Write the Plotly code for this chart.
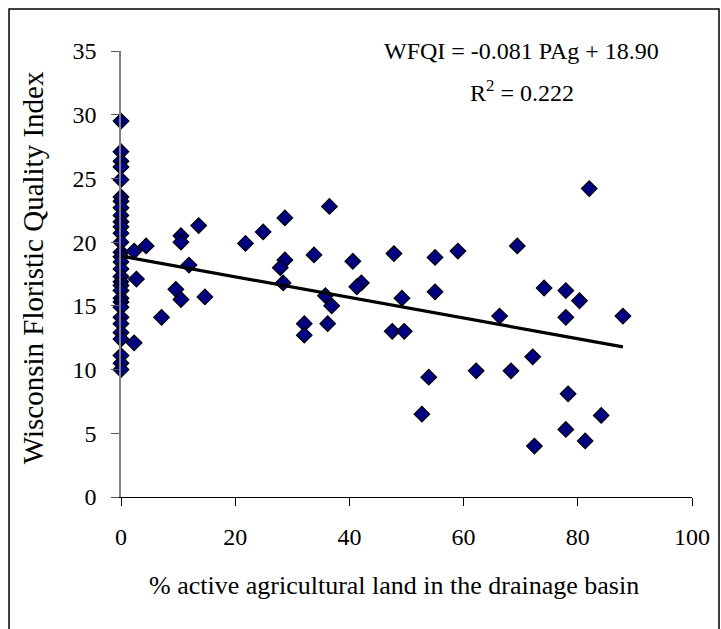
import plotly.graph_objects as go

# Sites on the axis (0 % agricultural land)
zero_wfqi = [29.5, 27.1, 26.35, 25.9, 24.9, 23.55, 23.2, 22.7, 22.1, 21.6, 21.2, 20.7,
             20.0, 19.2, 18.85, 18.45, 17.9, 17.3, 16.9, 16.6, 16.2, 15.6, 15.3, 14.9,
             14.1, 13.6, 12.9, 12.4, 11.1, 10.5, 10.0]

# Sites with some agricultural land
pag = [2.3, 4.4, 10.5, 10.5, 13.6, 11.9, 2.7, 9.6, 10.5, 14.7, 7.1, 2.3,
       21.8, 24.9, 28.7, 36.5, 28.7, 27.9, 28.4, 33.8, 40.6, 35.8, 36.9, 42.1, 41.3,
       32.1, 32.1, 36.2, 47.8, 55.0, 59.0, 49.2, 55.0, 47.5, 49.6, 53.9, 52.7,
       82.0, 69.4, 74.1, 77.9, 80.3, 66.3, 77.9, 87.9, 72.1, 62.2, 68.3, 78.3, 84.1,
       77.9, 81.3, 72.4]
wfqi = [19.3, 19.7, 20.5, 20.0, 21.3, 18.2, 17.1, 16.3, 15.5, 15.7, 14.1, 12.1,
        19.9, 20.8, 21.9, 22.8, 18.6, 18.0, 16.8, 19.0, 18.5, 15.8, 15.0, 16.8, 16.5,
        13.6, 12.7, 13.6, 19.1, 18.8, 19.3, 15.6, 16.1, 13.0, 13.0, 9.4, 6.5,
        24.2, 19.7, 16.4, 16.2, 15.4, 14.2, 14.1, 14.2, 11.0, 9.9, 9.9, 8.1, 6.4,
        5.3, 4.4, 4.0]

slope = -0.081
intercept = 18.90
r_squared = 0.222

x_all = [0.0] * len(zero_wfqi) + pag
y_all = zero_wfqi + wfqi

x_ticks = [0, 20, 40, 60, 80, 100]
y_ticks = [0, 5, 10, 15, 20, 25, 30, 35]

FONT = "Liberation Serif"

fig = go.Figure()
fig.add_trace(go.Scatter(
    x=x_all, y=y_all, mode="markers",
    marker=dict(symbol="diamond", size=12, color="#000080",
                line=dict(color="black", width=1.2)),
    cliponaxis=False, showlegend=False,
))
x_line = [0, max(x_all)]
fig.add_trace(go.Scatter(
    x=x_line, y=[intercept + slope * v for v in x_line], mode="lines",
    line=dict(color="black", width=3.2), showlegend=False,
))

fig.update_layout(
    width=721, height=629,
    margin=dict(l=121, r=29, t=51, b=132),
    paper_bgcolor="white", plot_bgcolor="white",
    font=dict(family=FONT, size=24, color="black"),
    xaxis=dict(range=[0, 100], tickvals=x_ticks, ticks="outside", ticklen=8,
               tickcolor="black", showline=True, linecolor="black", linewidth=1.2,
               showgrid=False, zeroline=False, ticklabelstandoff=10,
               tickfont=dict(family=FONT, size=24, color="black")),
    yaxis=dict(range=[0, 35], tickvals=y_ticks, ticks="outside", ticklen=8,
               tickcolor="#555555", showline=True, linecolor="#808080", linewidth=1.5,
               showgrid=False, zeroline=False, ticklabelstandoff=10,
               tickfont=dict(family=FONT, size=24, color="black")),
    shapes=[dict(type="rect", xref="paper", yref="paper",
                 x0=-0.1961, x1=1.0473, y0=-0.33, y1=1.0942,
                 line=dict(color="black", width=1.5), fillcolor="rgba(0,0,0,0)")],
    annotations=[
        dict(x=70.2, y=35.0, xref="x", yref="y", showarrow=False,
             text="WFQI = -0.081 PAg + 18.90", font=dict(family=FONT, size=24)),
        dict(x=70.2, y=31.9, xref="x", yref="y", showarrow=False,
             text="R<sup>2</sup> = 0.222", font=dict(family=FONT, size=24)),
        dict(x=47.8, y=-0.198, xref="x", yref="paper", showarrow=False,
             text="% active agricultural land in the drainage basin",
             font=dict(family=FONT, size=26), yanchor="middle"),
        dict(x=-0.155, y=0.514, xref="paper", yref="paper", showarrow=False,
             text="Wisconsin Floristic Quality Index", textangle=-90,
             font=dict(family=FONT, size=29), xanchor="center", yanchor="middle"),
    ],
)

fig.write_html("out.html")
